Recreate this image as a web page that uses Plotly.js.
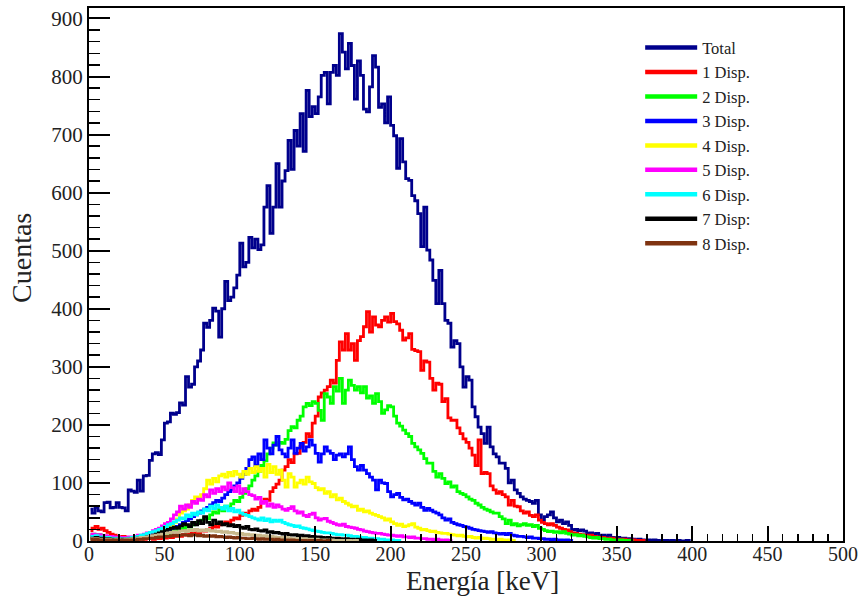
<!DOCTYPE html>
<html>
<head>
<meta charset="utf-8">
<script src="https://cdn.plot.ly/plotly-3.0.1.min.js"></script>
<style>html,body{margin:0;padding:0;background:#fff;}#chart{width:863px;height:598px;}</style>
</head>
<body>
<div id="chart"></div>
<script>
// Histogram bin width in keV (bins start at 0 keV)
const binWidth = 2;

// Counts per 2 keV bin
const total = [55,48,58,52,50,66,67,57,58,66,
58,57,52,88,86,84,105,86,112,113,
139,150,152,149,174,203,205,220,218,221,
238,234,283,265,270,300,310,329,375,368,
380,401,396,351,400,447,414,420,436,458,
513,472,480,523,505,520,502,510,575,612,
530,575,650,575,620,638,690,640,707,680,
736,671,776,731,748,736,765,802,807,753,
807,819,802,874,842,813,857,819,761,827,
802,744,739,782,836,816,747,753,720,765,
716,698,642,693,653,624,621,595,586,564,
507,575,501,484,449,409,466,409,380,375,
334,345,340,300,265,283,277,231,214,196,
185,168,196,162,150,145,134,134,125,100,
105,88,82,76,72,70,68,65,70,45,
36,42,45,50,40,33,36,30,33,27,
19,20,18,19,17,13,14,12,13,9,
10,8,10,6,5,6,4,5,3,4,
3,2,3,2,1,2,1,2,1,0,
1,1,0,1,0,1,0,0,1,0];

const disp1 = [18,22,25,20,22,18,15,12,10,8,
6,8,5,6,4,5,3,4,3,5,
4,3,5,4,6,5,7,6,8,9,
8,11,10,13,12,15,14,18,17,20,
22,25,24,28,30,33,31,36,40,38,
44,48,46,52,55,53,58,66,72,70,
85,92,98,105,122,128,140,135,150,151,
163,170,185,180,203,215,248,255,260,266,
277,272,311,343,329,357,329,340,311,345,
352,369,395,360,386,372,369,380,386,377,
392,378,374,363,346,350,357,330,328,326,
294,310,308,280,260,272,270,240,245,212,
208,208,195,185,176,170,160,148,130,174,
116,118,116,95,88,82,85,80,76,62,
70,60,59,52,48,50,44,42,45,36,
32,30,28,30,27,24,22,20,19,16,
14,13,12,11,10,9,10,8,7,6,
6,5,4,5,3,3,2,3,2,1,
2,1,1,0,1];

const disp2 = [10,12,8,11,9,7,8,6,5,6,
4,5,4,3,5,4,6,5,7,6,
8,9,8,11,12,14,13,16,18,17,
20,22,26,24,28,32,30,36,40,38,
45,50,48,55,52,60,58,64,70,68,
75,82,90,95,105,112,120,130,138,150,
160,169,165,170,168,175,190,197,195,208,
215,231,237,233,240,237,225,208,254,248,
237,266,258,280,237,260,277,268,260,266,
255,266,246,250,237,254,240,220,226,233,
231,215,203,198,191,185,180,168,162,157,
151,142,134,134,120,110,116,108,99,102,
93,95,85,82,80,76,72,70,65,62,
58,55,53,50,48,48,42,38,30,36,
28,30,26,28,30,27,28,25,27,22,
20,18,16,17,15,16,14,16,13,12,
10,11,9,10,8,7,6,5,6,4,
4,3,3,2,2,1,2,1,1,0,
1];

const disp3 = [8,6,7,5,6,5,4,5,3,4,
3,4,3,4,5,4,6,5,7,8,
9,10,12,14,15,18,20,22,25,24,
28,32,35,38,42,45,48,52,55,58,
62,66,70,68,74,80,85,88,95,100,
108,115,125,140,145,130,150,140,174,160,
150,165,180,157,150,145,160,174,151,160,
168,155,162,174,165,151,136,150,162,155,
151,140,148,150,145,150,162,140,128,122,
130,122,116,110,105,88,105,100,99,85,
76,80,82,75,71,72,68,65,62,65,
58,53,56,53,50,48,45,40,36,38,
32,30,28,27,25,24,22,20,19,18,
17,16,15,16,14,13,12,13,11,13,
10,9,8,8,7,6,7,5,5,4,
4,3,3,2,3,2,2,1,2,1,
1];

const disp4 = [5,6,4,5,3,4,3,4,3,2,
3,4,3,5,4,6,5,7,8,10,
12,11,14,16,18,22,25,28,32,38,
48,52,55,62,70,76,72,80,90,105,
98,108,102,112,115,110,118,112,120,115,
110,120,115,125,118,128,120,125,110,132,
118,128,115,122,105,93,116,110,93,100,
105,98,110,102,99,92,88,90,82,85,
76,80,71,74,68,65,62,59,60,53,
55,50,52,48,46,44,42,40,36,38,
33,30,27,29,25,26,28,30,24,22,
19,20,18,16,17,15,14,13,13,12,
11,10,9,10,8,7,8,6,5,6,
4,5,4,3,3,2,3,2,1,2,
1,1];

const disp5 = [10,12,9,11,8,9,7,8,6,7,
5,6,5,7,6,8,10,9,12,14,
13,18,20,22,26,30,32,38,45,50,
60,55,62,58,68,65,72,70,80,76,
88,82,90,85,93,88,100,92,85,95,
82,90,85,80,78,72,75,65,68,60,
64,58,62,59,55,53,56,59,52,48,
50,44,42,46,48,40,36,38,39,34,
32,30,28,27,29,25,24,23,22,20,
19,17,16,15,14,13,13,12,11,10,
10,9,8,9,7,7,6,7,5,5,
4,4,3,3,2,3,2,1,2,1,
1];

const disp6 = [8,7,9,6,7,5,6,5,4,5,
4,3,4,5,6,7,8,10,11,13,
15,16,18,20,22,25,28,30,33,36,
40,38,45,42,48,45,50,48,55,52,
60,56,62,58,55,60,52,56,50,53,
48,46,44,42,40,38,36,40,35,38,
33,36,34,36,32,30,28,27,25,26,
23,22,21,19,18,17,16,15,14,14,
13,12,11,11,10,10,9,8,8,7,
6,6,5,5,4,4,3,3,2,2,
2,1,1,1];

const disp7 = [5,4,6,4,5,3,4,3,2,3,
2,3,2,3,4,3,5,4,6,7,
8,10,12,14,16,18,20,22,24,22,
26,30,28,25,32,28,35,30,42,32,
28,36,30,33,28,30,26,28,25,27,
24,22,25,20,19,21,18,17,19,15,
16,14,15,13,12,13,11,10,11,9,
10,8,9,7,8,6,7,6,5,6,
5,4,5,4,3,4,3,3,2,3,
2,2,1,2,1,1];

const disp8 = [3,2,3,2,2,1,2,1,1,2,
1,1,2,1,2,2,3,3,4,4,
5,5,6,7,7,8,8,9,10,9,
10,11,10,9,11,10,9,10,8,9,
8,9,7,8,7,6,7,6,5,6,
5,5,4,4,5,4,3,4,3,3,
3,2,3,2,2,2,1,2,1,1,
1,1,0,1,1,0,1,0,0,1,
0];

// Extra (unlabelled) histogram visible near the bottom
const dispExtra = [4,3,4,3,3,2,3,2,2,3,
2,2,3,3,4,4,5,6,6,7,
8,9,10,11,12,13,14,15,16,15,
17,18,16,19,18,20,17,19,18,20,
17,18,16,17,15,16,14,15,13,12,
13,11,12,10,11,9,10,8,9,7,
8,7,6,6,5,6,5,4,4,4,
3,4,3,3,2,3,2,2,2,1,
2,1,1,1,1,0,1,0,1,0];

const seriesNames = ["Total","1 Disp.","2 Disp.","3 Disp.","4 Disp.","5 Disp.","6 Disp.","7 Disp:","8 Disp."];
const seriesColors = ["#00008c","#ff0000","#00ff00","#0000ff","#ffff00","#ff00ff","#00ffff","#000000","#7f3310"];
const seriesData = [total,disp1,disp2,disp3,disp4,disp5,disp6,disp7,disp8];

const xTickVals = [0,50,100,150,200,250,300,350,400,450,500];
const yTickVals = [0,100,200,300,400,500,600,700,800,900];

function centers(arr){ return arr.map((_,i)=> i*binWidth + binWidth/2); }

function mk(arr, color){
  return {
    type:'scatter', mode:'lines', x: centers(arr), y: arr,
    line:{color: color, width: 2.8, shape:'hvh'}, showlegend: false, hoverinfo:'skip'
  };
}

const traces = [];
// draw order: Total, 1..7, extra, 8
for (let i=0;i<8;i++) traces.push(mk(seriesData[i], seriesColors[i]));
traces.push(mk(dispExtra, "#c8b98c"));
traces.push(mk(seriesData[8], seriesColors[8]));
// legend entries (thicker key lines, as in the reference legend)
for (let i=0;i<9;i++) traces.push({
  type:'scatter', mode:'lines', x:[null], y:[null], name: seriesNames[i],
  line:{color: seriesColors[i], width: 4.5}, showlegend: true, hoverinfo:'skip'
});

const serif = "Liberation Serif, Times New Roman, serif";

const layout = {
  width: 863, height: 598,
  margin: {l: 89, r: 20, t: 8, b: 57},
  paper_bgcolor: '#ffffff', plot_bgcolor: '#ffffff',
  showlegend: true,
  legend: {
    x: 0.731, y: 0.958, xanchor: 'left', yanchor: 'top',
    bgcolor: 'rgba(255,255,255,0)', borderwidth: 0,
    font: {family: serif, size: 16.5, color: '#222'},
    itemwidth: 52, tracegroupgap: 0
  },
  xaxis: {
    range: [0, 500], tickvals: xTickVals, ticktext: xTickVals.map(String),
    ticks: 'inside', ticklen: 15, tickwidth: 2, tickcolor: '#000',
    minor: {dtick: 10, tick0: 0, ticks: 'inside', ticklen: 7, tickwidth: 1.5, tickcolor: '#000'},
    showline: true, linewidth: 2, linecolor: '#000', mirror: true,
    showgrid: false, zeroline: false, ticklabelstandoff: -6,
    tickfont: {family: serif, size: 20, color: '#222'}
  },
  yaxis: {
    range: [0, 918], tickvals: yTickVals, ticktext: yTickVals.map(String),
    ticks: 'inside', ticklen: 21, tickwidth: 2, tickcolor: '#000',
    minor: {dtick: 20, tick0: 0, ticks: 'inside', ticklen: 11, tickwidth: 1.5, tickcolor: '#000'},
    showline: true, linewidth: 2, linecolor: '#000', mirror: true,
    showgrid: false, zeroline: false,
    tickfont: {family: serif, size: 21, color: '#222'}
  },
  annotations: [
    {text: 'Energía [keV]', xref: 'paper', yref: 'paper', x: 0.5225, y: -0.075,
     xanchor: 'center', yanchor: 'middle', showarrow: false,
     font: {family: serif, size: 27, color: '#222'}},
    {text: 'Cuentas', xref: 'paper', yref: 'paper', x: -0.0889, y: 0.531,
     xanchor: 'center', yanchor: 'middle', showarrow: false, textangle: -90,
     font: {family: serif, size: 28, color: '#222'}}
  ]
};

Plotly.newPlot('chart', traces, layout, {displayModeBar: false, staticPlot: true});
</script>
</body>
</html>
